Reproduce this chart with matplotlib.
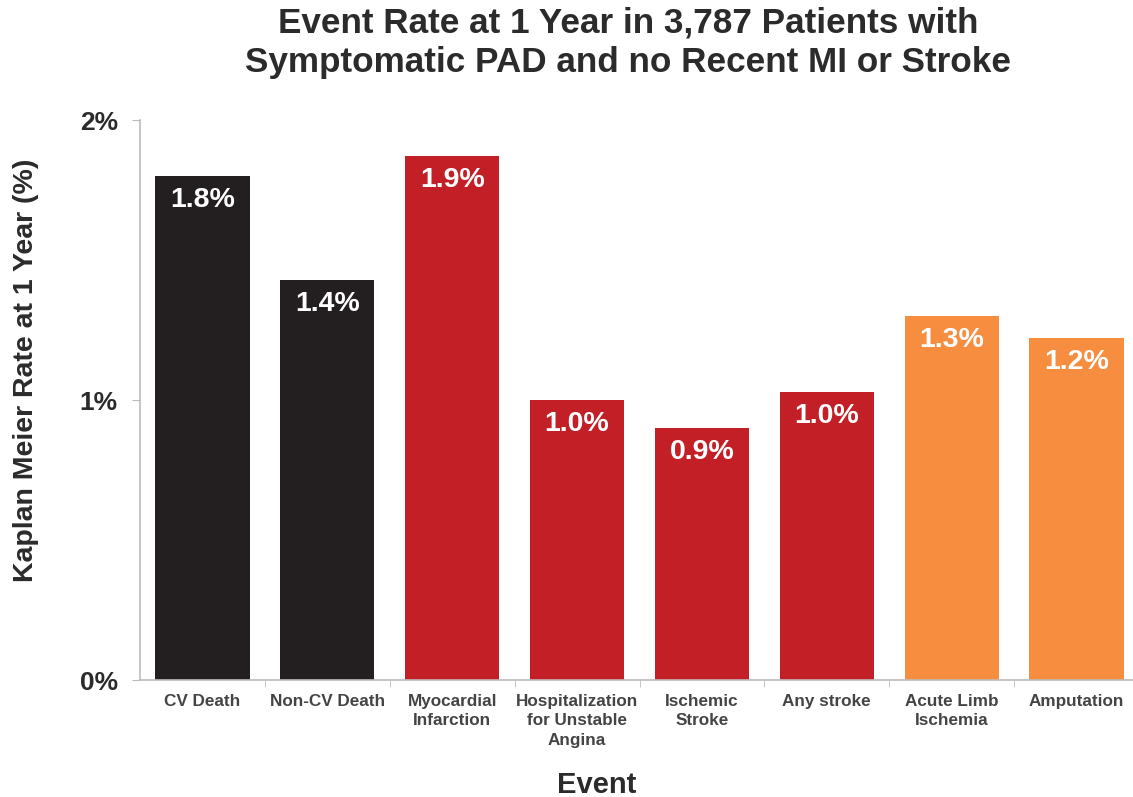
import matplotlib
matplotlib.use("Agg")
import matplotlib.pyplot as plt
from matplotlib.ticker import FuncFormatter

plt.rcParams['font.family'] = ['Liberation Sans', 'DejaVu Sans']

categories = ["CV Death", "Non-CV Death", "Myocardial\nInfarction",
              "Hospitalization\nfor Unstable\nAngina", "Ischemic\nStroke",
              "Any stroke", "Acute Limb\nIschemia", "Amputation"]
rates = [1.80, 1.43, 1.87, 1.00, 0.90, 1.03, 1.30, 1.22]
bar_colors = ["#231f20", "#231f20", "#c21f26", "#c21f26", "#c21f26",
              "#c21f26", "#f68d3f", "#f68d3f"]
y_ticks = [0, 1, 2]

W, H = 1133, 797
fig = plt.figure(figsize=(W / 100, H / 100), dpi=100)
ax = fig.add_axes([140 / W, 117 / H, 999 / W, 560 / H])

x = range(len(categories))
bars = ax.bar(x, rates, width=0.755, color=bar_colors, zorder=2)

for b, v in zip(bars, rates):
    ax.annotate(f"{v:.1f}%", (b.get_x() + b.get_width() / 2, v),
                xytext=(0, -24), textcoords="offset pixels",
                ha="center", va="center", color="white",
                fontsize=20.5, fontweight="bold")

ax.set_xlim(-0.5, len(categories) - 0.5)
ax.set_ylim(0, 2)
ax.set_yticks(y_ticks)
ax.yaxis.set_major_formatter(FuncFormatter(lambda v, p: f"{v:.0f}%"))
ax.tick_params(axis="y", labelsize=19, length=6, color="#bbbbbb",
               labelcolor="#2b2b2b", pad=10)
for lbl in ax.get_yticklabels():
    lbl.set_fontweight("bold")

ax.set_xticks(list(x))
ax.set_xticklabels(categories, fontsize=12.3, fontweight="bold", color="#444444",
                   linespacing=1.38)
ax.tick_params(axis="x", length=0, pad=10)
# small separators between categories on the baseline
ax.set_xticks([i + 0.5 for i in range(len(categories) - 1)], minor=True)
ax.tick_params(axis="x", which="minor", length=5, color="#bbbbbb")

for side in ["top", "right"]:
    ax.spines[side].set_visible(False)
for side in ["left", "bottom"]:
    ax.spines[side].set_color("#bbbbbb")
    ax.spines[side].set_linewidth(1.2)

fig.text(26 / W, 1 - 370 / H, "Kaplan Meier Rate at 1 Year (%)", rotation=90,
         ha="center", va="center", fontsize=20.5, fontweight="bold",
         color="#2b2b2b")
fig.text(597 / W, 1 - 785 / H, "Event", ha="center", va="center",
         fontsize=21, fontweight="bold", color="#2b2b2b")

fig.text(628 / W, 1 - 43 / H, "Event Rate at 1 Year in 3,787 Patients with\n"
         "Symptomatic PAD and no Recent MI or Stroke",
         ha="center", va="center", fontsize=25.3, fontweight="bold",
         color="#2b2b2b", linespacing=1.24)

fig.savefig("out.png", dpi=100)
